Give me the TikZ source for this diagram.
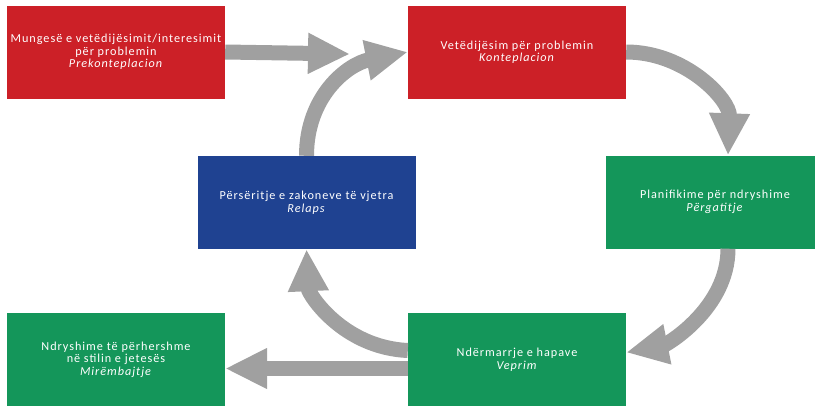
\documentclass[tikz,border=0pt]{standalone}
\usepackage{fontspec}
\setmainfont{Carlito}[LetterSpace=8]
\usepackage{tikz}
\usetikzlibrary{arrows.meta, positioning, calc}
\usepackage{xcolor}
\definecolor{stagered}{RGB}{204, 32, 39}
\definecolor{stageblue}{RGB}{31, 66, 145}
\definecolor{stagegreen}{RGB}{20, 150, 90}
\definecolor{flowgray}{RGB}{160, 160, 160}

\begin{document}
\begin{tikzpicture}[
        x=1pt, y=-1pt,
        stage/.style={rectangle, minimum width=218pt, minimum height=93pt,
                      inner sep=0pt, align=center, text=white,
                      font=\fontsize{12.2}{12.5}\selectfont},
        flow/.style={-{Triangle[width=38pt, length=42pt]}, line width=15pt,
                     draw=flowgray},
    ]
        \clip (0,0) rectangle (815,405);

        \node[stage, fill=stagered] (prekont) at (116,52) {Mungesë e vetëdijësimit/interesimit\\për problemin\\\textit{Prekonteplacion}};
        \node[stage, fill=stagered] (kont) at (517,52) {Vetëdijësim për problemin\\\textit{Konteplacion}};
        \node[stage, fill=stageblue] (relaps) at (306.5,202.5) {Përsëritje e zakoneve të vjetra\\\textit{Relaps}};
        \node[stage, fill=stagegreen] (pergat) at (715,202) {Planifikime për ndryshime\\\textit{Përgatitje}};
        \node[stage, fill=stagegreen] (miremb) at (116,359.5) {Ndryshime të përhershme\\në stilin e jetesës\\\textit{Mirëmbajtje}};
        \node[stage, fill=stagegreen] (veprim) at (517,359.5) {Ndërmarrje e hapave\\\textit{Veprim}};

        \coordinate (merge) at (350,54);

        \draw[flow] (prekont.east) -- (merge);
        \draw[flow] (relaps.north) .. controls +(0,-60) and +(-60,12) .. (kont.west);
        \draw[flow] (kont.east) .. controls +(60,0) and +(2,-55) .. ([xshift=13pt]pergat.north);
        \draw[flow] ([xshift=13pt]pergat.south) .. controls +(0,60) and +(40,-8) .. ([yshift=7pt]veprim.east);
        \draw[flow] ([yshift=9pt]veprim.west) .. controls +(-65,-3) and +(2,45) .. (relaps.south);
        \draw[flow] ([yshift=-9pt]veprim.west) -- ([yshift=-9pt]miremb.east);
    \end{tikzpicture}
\end{document}
